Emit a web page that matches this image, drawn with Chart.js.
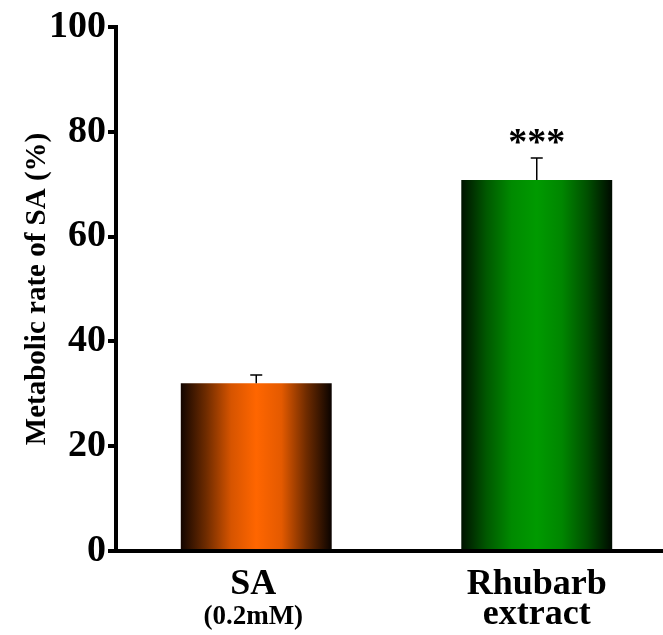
<!DOCTYPE html>
<html>
<head>
<meta charset="utf-8">
<script src="https://cdn.jsdelivr.net/npm/chart.js@4"></script>
<style>
  html, body { margin: 0; padding: 0; overflow: hidden; background: #fff; }
  #wrap { width: 677px; height: 635px; }
</style>
</head>
<body>
<div id="wrap"><canvas id="bar-chart"></canvas></div>
<script>
const categories = [['SA', '(0.2mM)'], ['Rhubarb', 'extract']];
const rates = [32, 70.8];
const errors = [1.6, 4.2];
const significance = ['', '***'];
const yTicks = [0, 20, 40, 60, 80, 100];

const serif = "'Liberation Serif', 'Times New Roman', serif";

const barGradients = [
  ['#120500', '#6e2b00', '#d65400', '#ff6600', '#e45a00', '#6e2b00', '#0a0300'],
  ['#001200', '#005800', '#008a00', '#009a00', '#008600', '#005000', '#000a00'],
];

function barFill(ctx) {
  const chart = ctx.chart;
  const scale = chart.scales.x;
  if (!chart.chartArea || !scale) return barGradients[ctx.dataIndex][3];
  const cx = scale.getPixelForValue(ctx.dataIndex);
  const half = 75.5;
  const g = chart.ctx.createLinearGradient(cx - half, 0, cx + half, 0);
  const stops = barGradients[ctx.dataIndex];
  stops.forEach((c, i) => g.addColorStop(i / (stops.length - 1), c));
  return g;
}

// error bars (upper only), significance marks and category labels
const extras = {
  id: 'extras',
  afterDatasetsDraw(chart) {
    const { ctx } = chart;
    const y = chart.scales.y;
    const meta = chart.getDatasetMeta(0);
    ctx.save();
    ctx.strokeStyle = '#000';
    ctx.lineWidth = 1.5;
    meta.data.forEach((bar, i) => {
      const top = y.getPixelForValue(rates[i] + errors[i]);
      const base = y.getPixelForValue(rates[i]);
      ctx.beginPath();
      ctx.moveTo(bar.x, base);
      ctx.lineTo(bar.x, top);
      ctx.moveTo(bar.x - 6, top);
      ctx.lineTo(bar.x + 6, top);
      ctx.stroke();
      if (significance[i]) {
        ctx.fillStyle = '#000';
        ctx.font = 'bold 38px ' + serif;
        ctx.textAlign = 'center';
        ctx.textBaseline = 'middle';
        ctx.fillText(significance[i], bar.x, top - 14);
      }
    });
    ctx.restore();
  },
  afterDraw(chart) {
    const { ctx, chartArea } = chart;
    const x = chart.scales.x;
    ctx.save();
    ctx.fillStyle = '#000';
    ctx.textAlign = 'center';
    ctx.textBaseline = 'alphabetic';
    categories.forEach((lines, i) => {
      const cx = x.getPixelForValue(i) - (i === 0 ? 3 : 0);
      lines.forEach((line, j) => {
        const size = line.startsWith('(') ? 27 : 36;
        ctx.font = 'bold ' + size + 'px ' + serif;
        ctx.fillText(line, cx, chartArea.bottom + 43 + j * 30);
      });
    });
    ctx.restore();
  },
};

new Chart(document.getElementById('bar-chart'), {
  type: 'bar',
  data: {
    labels: categories,
    datasets: [
      {
        data: rates,
        backgroundColor: barFill,
        borderWidth: 0,
        barPercentage: 0.538,
        categoryPercentage: 1,
      },
    ],
  },
  options: {
    responsive: true,
    maintainAspectRatio: false,
    animation: false,
    layout: { padding: { top: 27, right: 0, bottom: 0, left: 0 } },
    plugins: {
      legend: { display: false },
      tooltip: { enabled: false },
    },
    scales: {
      x: {
        offset: true,
        grid: { display: false },
        border: { display: true, color: '#000', width: 4 },
        ticks: { display: false },
        afterFit(scale) { scale.height = 84; },
      },
      y: {
        min: 0,
        max: 100,
        afterBuildTicks(scale) { scale.ticks = yTicks.map(v => ({ value: v })); },
        grid: {
          drawOnChartArea: false,
          drawTicks: true,
          tickLength: 8,
          lineWidth: 4,
          color: '#000',
        },
        border: { display: true, color: '#000', width: 4 },
        ticks: {
          color: '#000',
          padding: 2,
          font: { family: serif, size: 38, weight: 'bold', lineHeight: 1 },
        },
        title: {
          display: true,
          text: 'Metabolic rate of SA (%)',
          color: '#000',
          font: { family: serif, size: 29, weight: 'bold', lineHeight: 1 },
          padding: { top: 23, bottom: 0 },
        },
        afterFit(scale) { scale.width = 116; },
      },
    },
  },
  plugins: [extras],
});
</script>
</body>
</html>
